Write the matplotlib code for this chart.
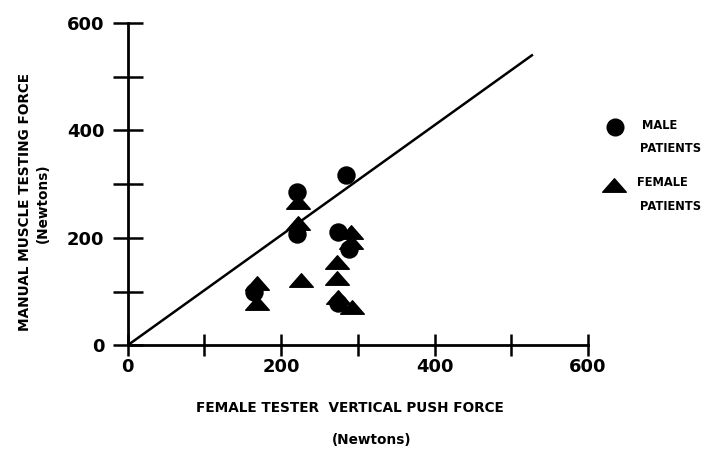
"""Manual muscle testing force vs female tester vertical push force."""

import matplotlib.pyplot as plt
import numpy as np
from matplotlib.path import Path

male_x = [285, 221, 221, 274, 289, 165, 274]
male_y = [317, 285, 208, 210, 180, 99, 78]

female_x = [222, 222, 291, 291, 273, 273, 226, 168, 168, 274, 293]
female_y = [266, 227, 210, 192, 155, 125, 121, 115, 78, 89, 71]

line_x = [0, 527]
line_y = [0, 540]

x_ticks = np.arange(0, 601, 100)
y_ticks = np.arange(0, 601, 100)
tick_labels = ["0", "", "200", "", "400", "", "600"]

# flat triangle like the print
tri = Path([(-1, -0.57), (1, -0.57), (0, 0.57), (-1, -0.57)],
           [Path.MOVETO, Path.LINETO, Path.LINETO, Path.CLOSEPOLY])

plt.rcParams["font.family"] = ["DejaVu Sans"]
plt.rcParams["font.weight"] = "bold"

fig = plt.figure(figsize=(7.1, 4.53), dpi=100)
ax = fig.add_axes([0.180, 0.238, 0.648, 0.711])

ax.plot(line_x, line_y, color="black", lw=1.8, zorder=2)
ax.scatter(male_x, male_y, s=150, marker="o", color="black", zorder=3)
ax.scatter(female_x, female_y, s=290, marker=tri, color="black", zorder=3)

ax.set_xlim(0, 600)
ax.set_ylim(0, 600)
for side in ("top", "right"):
    ax.spines[side].set_visible(False)
for side in ("left", "bottom"):
    ax.spines[side].set_linewidth(2)

ax.set_xticks(x_ticks)
ax.set_xticklabels(tick_labels)
ax.set_yticks(y_ticks)
ax.set_yticklabels(tick_labels)
ax.tick_params(axis="x", direction="inout", length=16, width=1.8,
               labelsize=13, pad=1)
ax.tick_params(axis="y", direction="inout", length=22, width=1.8,
               labelsize=13, pad=6)
for lbl in ax.get_xticklabels() + ax.get_yticklabels():
    lbl.set_fontweight("bold")

label_size = 9.8
fig.text(0.493, 0.099, "FEMALE TESTER  VERTICAL PUSH FORCE", ha="center",
         va="center", fontsize=label_size, fontweight="bold")
fig.text(0.524, 0.029, "(Newtons)", ha="center", va="center",
         fontsize=label_size, fontweight="bold")
fig.text(0.035, 0.554, "MANUAL MUSCLE TESTING FORCE", ha="center",
         va="center", rotation=90, fontsize=label_size, fontweight="bold")
fig.text(0.061, 0.552, "(Newtons)", ha="center", va="center",
         rotation=90, fontsize=label_size, fontweight="bold")

# legend drawn by hand
fig.lines.append(plt.Line2D([615 / 710], [1 - 127 / 453], marker="o",
                            markersize=12, color="black",
                            transform=fig.transFigure))
fig.lines.append(plt.Line2D([614 / 710], [1 - 185 / 453], marker=tri,
                            markersize=17, color="black",
                            transform=fig.transFigure))
legend_size = 8.3
fig.text(642 / 710, 1 - 125 / 453, "MALE", va="center", fontsize=legend_size,
         fontweight="bold")
fig.text(640 / 710, 1 - 149 / 453, "PATIENTS", va="center",
         fontsize=legend_size, fontweight="bold")
fig.text(637 / 710, 1 - 182 / 453, "FEMALE", va="center",
         fontsize=legend_size, fontweight="bold")
fig.text(640 / 710, 1 - 207 / 453, "PATIENTS", va="center",
         fontsize=legend_size, fontweight="bold")

fig.savefig("out.png", dpi=100)
